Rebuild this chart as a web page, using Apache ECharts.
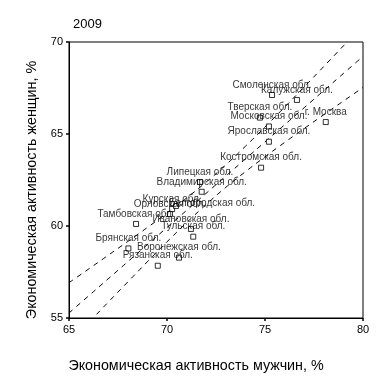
<!DOCTYPE html>
<html>
<head>
<meta charset="utf-8">
<script src="https://cdn.jsdelivr.net/npm/echarts@6/dist/echarts.min.js"></script>
<style>html,body{margin:0;padding:0;background:#fff;}#c{width:381px;height:388px;}</style>
</head>
<body>
<div id="c"></div>
<script>
const regions = ['Смоленская обл.','Калужская обл.','Тверская обл.','Московская обл.','г. Москва','Ярославская обл.','Костромская обл.','Липецкая обл.','Владимирская обл.','Курская обл.','Белгородская обл.','Орловская обл.','Тамбовская обл.','Ивановская обл.','Тульская обл.','Брянская обл.','Воронежская обл.','Рязанская обл.'];
const menActivity   = [75.36, 76.63, 74.74, 75.20, 78.10, 75.20, 74.80, 71.68, 71.77, 70.26, 70.46, 70.15, 68.42, 71.22, 71.34, 68.03, 70.61, 69.53];
const womenActivity = [67.12, 66.85, 65.89, 65.41, 65.65, 64.58, 63.17, 62.39, 61.86, 60.92, 61.09, 60.65, 60.11, 59.84, 59.42, 58.78, 58.28, 57.84];

const bandX     = [65, 66, 67, 68, 69, 70, 71, 72, 73, 74, 75, 76, 77, 78, 79, 80];
const fitLine   = [55.27, 56.20, 57.13, 58.06, 58.99, 59.92, 60.85, 61.78, 62.71, 63.64, 64.57, 65.50, 66.43, 67.36, 68.29, 69.22];
const bandUpper = [56.92, 57.66, 58.41, 59.16, 59.92, 60.70, 61.52, 62.39, 63.32, 64.33, 65.38, 66.46, 67.56, 68.67, 69.79, 70.91];
const bandLower = [53.62, 54.74, 55.86, 56.96, 58.06, 59.14, 60.18, 61.17, 62.10, 62.95, 63.76, 64.54, 65.30, 66.05, 66.79, 67.53];

const titleText = '2009';
const xName = 'Экономическая активность мужчин, %';
const yName = 'Экономическая активность женщин, %';

const font = 'Liberation Sans, Arial, sans-serif';
const labelTweaks = { 'Белгородская обл.': { offset: [36, 7] } };

const points = regions.map((n, i) => {
  const d = { name: n, value: [menActivity[i], womenActivity[i]] };
  if (labelTweaks[n]) d.label = labelTweaks[n];
  return d;
});
const pair = arr => bandX.map((x, i) => [x, arr[i]]);
const dashed = { color: '#000', width: 1, type: [5, 5] };
const lineSeries = arr => ({
  type: 'line', data: pair(arr), smooth: true, symbol: 'none', clip: true,
  lineStyle: dashed, silent: true, z: 1
});

const chart = echarts.init(document.getElementById('c'), null, { renderer: 'canvas' });
chart.setOption({
  animation: false,
  backgroundColor: '#fff',
  title: { text: titleText, left: 68, top: 13, textStyle: { fontFamily: font, fontSize: 13, fontWeight: 'normal', color: '#000' } },
  grid: { left: 69, top: 42, right: 18, bottom: 70, show: true, borderColor: '#000', borderWidth: 1, backgroundColor: 'transparent' },
  xAxis: {
    type: 'value', min: 65, max: 80, interval: 5,
    name: xName, nameLocation: 'middle', nameGap: 41,
    nameTextStyle: { fontFamily: font, fontSize: 14.3, color: '#000', padding: [0, 40, 0, 0] },
    axisLine: { show: true, lineStyle: { color: '#000' } },
    axisTick: { show: true, length: 3, lineStyle: { color: '#000', width: 1.5 } },
    axisLabel: { fontFamily: font, fontSize: 11, color: '#000', margin: 6 },
    splitLine: { show: false }
  },
  yAxis: {
    type: 'value', min: 55, max: 70, interval: 5,
    name: yName, nameLocation: 'middle', nameGap: 30,
    nameTextStyle: { fontFamily: font, fontSize: 14.3, color: '#000', padding: [0, 20, 0, 0] },
    axisLine: { show: true, lineStyle: { color: '#000' } },
    axisTick: { show: true, length: 3, lineStyle: { color: '#000', width: 1.5 } },
    axisLabel: { fontFamily: font, fontSize: 11, color: '#000', margin: 6 },
    splitLine: { show: false }
  },
  series: [
    lineSeries(bandUpper),
    lineSeries(fitLine),
    lineSeries(bandLower),
    {
      type: 'scatter', data: points, symbol: 'rect', symbolSize: 5, z: 3,
      itemStyle: { color: '#fff', borderColor: '#000', borderWidth: 1 },
      label: { show: true, position: 'top', distance: 2, formatter: '{b}', fontFamily: font, fontSize: 10, color: '#000' }
    }
  ]
});
</script>
</body>
</html>
